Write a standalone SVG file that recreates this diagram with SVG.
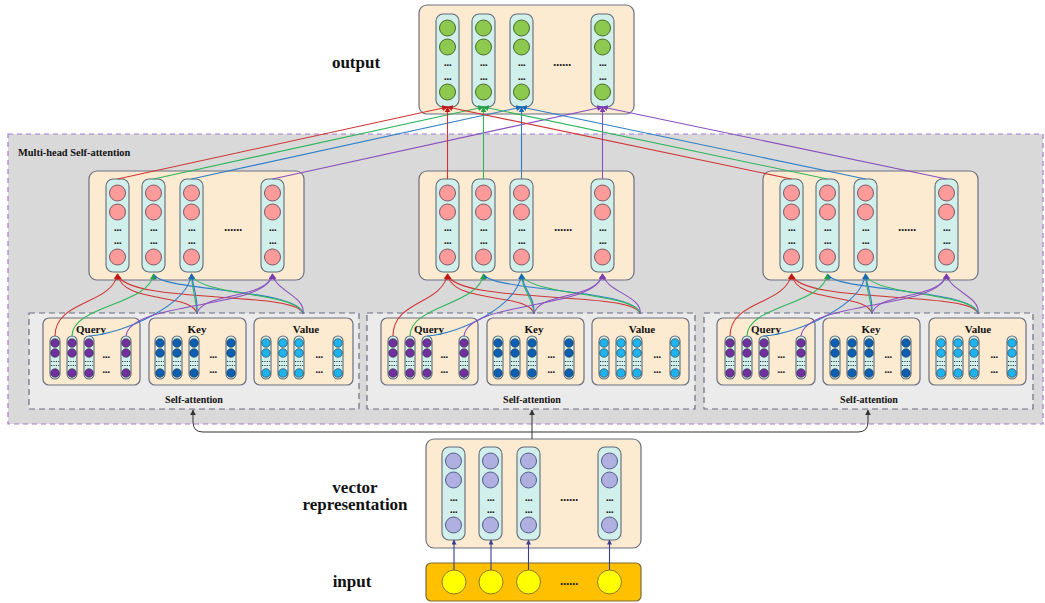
<svg xmlns="http://www.w3.org/2000/svg" xmlns:xlink="http://www.w3.org/1999/xlink" width="1045" height="603" viewBox="0 0 1045 603">
<style>
.lbl{font-family:"Liberation Serif",serif;font-weight:bold;fill:#111;text-anchor:middle}
.box{fill:#fdebd1;stroke:#6b6f82;stroke-width:1.2}
.col{fill:#d2f0eb;stroke:#5f6b7a;stroke-width:1.1}
.d{font-family:"Liberation Sans",sans-serif;font-weight:bold;font-size:11px;fill:#222;text-anchor:middle;letter-spacing:-0.6px}
.e{font-family:"Liberation Sans",sans-serif;font-weight:bold;font-size:12px;fill:#222;text-anchor:middle;letter-spacing:-0.3px}
.sa{fill:#ebebeb;stroke:#6b6f82;stroke-width:1.2;stroke-dasharray:6,4}
.dl{stroke:#333;stroke-width:1.2;stroke-dasharray:1.2,1.2}
.c{fill:none;stroke-width:1.1}
.r{stroke:#d03535}.g{stroke:#2fb55a}.b{stroke:#2f7fc8}.p{stroke:#8a4fbf}
</style>
<defs>
<marker id="aR" viewBox="0 0 10 10" refX="9" refY="5" markerWidth="6" markerHeight="6" orient="auto" markerUnits="userSpaceOnUse"><path d="M0,0L10,5L0,10z" fill="#c01818"/></marker>
<marker id="aG" viewBox="0 0 10 10" refX="9" refY="5" markerWidth="6" markerHeight="6" orient="auto" markerUnits="userSpaceOnUse"><path d="M0,0L10,5L0,10z" fill="#1fa24a"/></marker>
<marker id="aB" viewBox="0 0 10 10" refX="9" refY="5" markerWidth="6" markerHeight="6" orient="auto" markerUnits="userSpaceOnUse"><path d="M0,0L10,5L0,10z" fill="#1a6ab8"/></marker>
<marker id="aP" viewBox="0 0 10 10" refX="9" refY="5" markerWidth="6" markerHeight="6" orient="auto" markerUnits="userSpaceOnUse"><path d="M0,0L10,5L0,10z" fill="#7a3cb0"/></marker>
<marker id="aK" viewBox="0 0 10 10" refX="9" refY="5" markerWidth="6" markerHeight="6" orient="auto" markerUnits="userSpaceOnUse"><path d="M0,0L10,5L0,10z" fill="#333"/></marker>
<marker id="aN" viewBox="0 0 10 10" refX="9" refY="5" markerWidth="5" markerHeight="5" orient="auto" markerUnits="userSpaceOnUse"><path d="M0,0L10,5L0,10z" fill="#3a3f8f"/></marker>
<g id="colG"><rect class="col" x="0" y="0" width="23" height="93" rx="7"/><g fill="#8cc94e" stroke="#4a6b2c" stroke-width="1"><circle cx="11.5" cy="14" r="8"/><circle cx="11.5" cy="33" r="8"/><circle cx="11.5" cy="78" r="8"/></g></g>
<g id="colP"><rect class="col" x="0" y="0" width="23" height="93" rx="7"/><g fill="#fd9a9a" stroke="#7a5a66" stroke-width="1"><circle cx="11.5" cy="14" r="8"/><circle cx="11.5" cy="33" r="8"/><circle cx="11.5" cy="78" r="8"/></g></g>
<g id="colL"><rect class="col" x="0" y="0" width="23" height="93" rx="7"/><g fill="#b0b0e0" stroke="#565b8a" stroke-width="1"><circle cx="11.5" cy="14" r="8"/><circle cx="11.5" cy="33" r="8"/><circle cx="11.5" cy="78" r="8"/></g></g>
<g id="mQ"><rect class="col" x="-5" y="0" width="10" height="43" rx="5"/><g fill="#7030a0" stroke="#333" stroke-width="0.6"><circle cy="7" r="4.3"/><circle cy="17" r="4.3"/><circle cy="37" r="4.3"/></g><line class="dl" x1="-4" x2="4" y1="25.5" y2="25.5"/><line class="dl" x1="-4" x2="4" y1="29.5" y2="29.5"/></g>
<g id="mK"><rect class="col" x="-5" y="0" width="10" height="43" rx="5"/><g fill="#0c5fb3" stroke="#333" stroke-width="0.6"><circle cy="7" r="4.3"/><circle cy="17" r="4.3"/><circle cy="37" r="4.3"/></g><line class="dl" x1="-4" x2="4" y1="25.5" y2="25.5"/><line class="dl" x1="-4" x2="4" y1="29.5" y2="29.5"/></g>
<g id="mV"><rect class="col" x="-5" y="0" width="10" height="43" rx="5"/><g fill="#1db3ee" stroke="#333" stroke-width="0.6"><circle cy="7" r="4.3"/><circle cy="17" r="4.3"/><circle cy="37" r="4.3"/></g><line class="dl" x1="-4" x2="4" y1="25.5" y2="25.5"/><line class="dl" x1="-4" x2="4" y1="29.5" y2="29.5"/></g>
</defs>
<rect width="1045" height="603" fill="#fff"/>
<g id="multihead">
<rect x="8" y="134" width="1035" height="290" fill="#d9d9d9" stroke="#a57bd3" stroke-width="1.2" stroke-dasharray="5,4"/>
<text class="lbl" x="18" y="156" font-size="10.4" style="text-anchor:start">Multi-head Self-attention</text>
</g>
<g id="output">
<text class="lbl" x="356" y="68" font-size="17">output</text>
<g transform="translate(419,5)">
<rect class="box" x="0" y="0" width="215" height="109" rx="8"/>
<use href="#colG" x="17" y="9"/><use href="#colG" x="53" y="9"/><use href="#colG" x="91" y="9"/><use href="#colG" x="172" y="9"/>
<text class="d" y="61"><tspan x="28.5">...</tspan><tspan x="64.5">...</tspan><tspan x="102.5">...</tspan><tspan x="183.5">...</tspan></text>
<text class="d" y="75"><tspan x="28.5">...</tspan><tspan x="64.5">...</tspan><tspan x="102.5">...</tspan><tspan x="183.5">...</tspan></text>
<text class="e" x="143" y="61">......</text>
</g>
</g>
<g id="head1" transform="translate(89,171)">
<rect class="box" x="0" y="0" width="215" height="109" rx="8"/>
<use href="#colP" x="17" y="8"/><use href="#colP" x="53" y="8"/><use href="#colP" x="91" y="8"/><use href="#colP" x="172" y="8"/>
<text class="d" y="60"><tspan x="28.5">...</tspan><tspan x="64.5">...</tspan><tspan x="102.5">...</tspan><tspan x="183.5">...</tspan></text>
<text class="d" y="73"><tspan x="28.5">...</tspan><tspan x="64.5">...</tspan><tspan x="102.5">...</tspan><tspan x="183.5">...</tspan></text>
<text class="e" x="144" y="60">......</text>
</g>
<g id="head2" transform="translate(419,171)">
<rect class="box" x="0" y="0" width="215" height="109" rx="8"/>
<use href="#colP" x="17" y="8"/><use href="#colP" x="53" y="8"/><use href="#colP" x="91" y="8"/><use href="#colP" x="172" y="8"/>
<text class="d" y="60"><tspan x="28.5">...</tspan><tspan x="64.5">...</tspan><tspan x="102.5">...</tspan><tspan x="183.5">...</tspan></text>
<text class="d" y="73"><tspan x="28.5">...</tspan><tspan x="64.5">...</tspan><tspan x="102.5">...</tspan><tspan x="183.5">...</tspan></text>
<text class="e" x="144" y="60">......</text>
</g>
<g id="head3" transform="translate(763,171)">
<rect class="box" x="0" y="0" width="215" height="109" rx="8"/>
<use href="#colP" x="17" y="8"/><use href="#colP" x="53" y="8"/><use href="#colP" x="91" y="8"/><use href="#colP" x="172" y="8"/>
<text class="d" y="60"><tspan x="28.5">...</tspan><tspan x="64.5">...</tspan><tspan x="102.5">...</tspan><tspan x="183.5">...</tspan></text>
<text class="d" y="73"><tspan x="28.5">...</tspan><tspan x="64.5">...</tspan><tspan x="102.5">...</tspan><tspan x="183.5">...</tspan></text>
<text class="e" x="144" y="60">......</text>
</g>
<g id="sa1" transform="translate(29,313)">
<rect class="sa" x="0" y="0" width="330" height="96"/>
<rect class="box" x="14" y="5" width="97" height="67" rx="6"/>
<rect class="box" x="120" y="5" width="97" height="67" rx="6"/>
<rect class="box" x="225" y="5" width="99" height="67" rx="6"/>
<text class="lbl" x="62" y="20" font-size="11">Query</text>
<text class="lbl" x="168" y="20" font-size="11">Key</text>
<text class="lbl" x="277" y="20" font-size="11">Value</text>
<use href="#mQ" x="26" y="23"/><use href="#mQ" x="43" y="23"/><use href="#mQ" x="60" y="23"/><use href="#mQ" x="97" y="23"/>
<use href="#mK" x="131" y="23"/><use href="#mK" x="148" y="23"/><use href="#mK" x="165" y="23"/><use href="#mK" x="202" y="23"/>
<use href="#mV" x="237" y="23"/><use href="#mV" x="254" y="23"/><use href="#mV" x="270" y="23"/><use href="#mV" x="309" y="23"/>
<text class="d" y="45"><tspan x="77">...</tspan><tspan x="184">...</tspan><tspan x="290">...</tspan></text>
<text class="d" y="60"><tspan x="77">...</tspan><tspan x="184">...</tspan><tspan x="290">...</tspan></text>
<text class="lbl" x="165" y="90" font-size="10">Self-attention</text>
</g>
<g id="sa2" transform="translate(367,313)">
<rect class="sa" x="0" y="0" width="328" height="96"/>
<rect class="box" x="14" y="5" width="97" height="67" rx="6"/>
<rect class="box" x="120" y="5" width="97" height="67" rx="6"/>
<rect class="box" x="225" y="5" width="97" height="67" rx="6"/>
<text class="lbl" x="62" y="20" font-size="11">Query</text>
<text class="lbl" x="167" y="20" font-size="11">Key</text>
<text class="lbl" x="275" y="20" font-size="11">Value</text>
<use href="#mQ" x="26" y="23"/><use href="#mQ" x="43" y="23"/><use href="#mQ" x="60" y="23"/><use href="#mQ" x="97" y="23"/>
<use href="#mK" x="131" y="23"/><use href="#mK" x="148" y="23"/><use href="#mK" x="165" y="23"/><use href="#mK" x="202" y="23"/>
<use href="#mV" x="237" y="23"/><use href="#mV" x="254" y="23"/><use href="#mV" x="270" y="23"/><use href="#mV" x="308" y="23"/>
<text class="d" y="45"><tspan x="77">...</tspan><tspan x="184">...</tspan><tspan x="290">...</tspan></text>
<text class="d" y="60"><tspan x="77">...</tspan><tspan x="184">...</tspan><tspan x="290">...</tspan></text>
<text class="lbl" x="165" y="90" font-size="10">Self-attention</text>
</g>
<g id="sa3" transform="translate(704,313)">
<rect class="sa" x="0" y="0" width="329" height="96"/>
<rect class="box" x="13" y="5" width="98" height="67" rx="6"/>
<rect class="box" x="119" y="5" width="97" height="67" rx="6"/>
<rect class="box" x="225" y="5" width="97" height="67" rx="6"/>
<text class="lbl" x="62" y="20" font-size="11">Query</text>
<text class="lbl" x="167" y="20" font-size="11">Key</text>
<text class="lbl" x="274" y="20" font-size="11">Value</text>
<use href="#mQ" x="26" y="23"/><use href="#mQ" x="43" y="23"/><use href="#mQ" x="60" y="23"/><use href="#mQ" x="97" y="23"/>
<use href="#mK" x="131" y="23"/><use href="#mK" x="148" y="23"/><use href="#mK" x="165" y="23"/><use href="#mK" x="202" y="23"/>
<use href="#mV" x="237" y="23"/><use href="#mV" x="254" y="23"/><use href="#mV" x="270" y="23"/><use href="#mV" x="308" y="23"/>
<text class="d" y="45"><tspan x="77">...</tspan><tspan x="184">...</tspan><tspan x="290">...</tspan></text>
<text class="d" y="60"><tspan x="77">...</tspan><tspan x="184">...</tspan><tspan x="290">...</tspan></text>
<text class="lbl" x="165" y="90" font-size="10">Self-attention</text>
</g>
<g id="vector">
<text class="lbl" x="355" y="493" font-size="17">vector</text>
<text class="lbl" x="355" y="510" font-size="17">representation</text>
<g transform="translate(426,439)">
<rect class="box" x="0" y="0" width="215" height="109" rx="8"/>
<use href="#colL" x="16" y="8"/><use href="#colL" x="53" y="8"/><use href="#colL" x="91" y="8"/><use href="#colL" x="172" y="8"/>
<text class="d" y="62"><tspan x="27.5">...</tspan><tspan x="64.5">...</tspan><tspan x="102.5">...</tspan><tspan x="183.5">...</tspan></text>
<text class="d" y="74"><tspan x="27.5">...</tspan><tspan x="64.5">...</tspan><tspan x="102.5">...</tspan><tspan x="183.5">...</tspan></text>
<text class="e" x="143" y="62">......</text>
</g>
</g>
<g id="input">
<text class="lbl" x="352" y="587" font-size="17">input</text>
<rect x="426" y="563" width="215" height="38" rx="5" fill="#ffc000" stroke="#7a6a3a" stroke-width="1.2"/>
<g fill="#ffff00" stroke="#8a7a2a" stroke-width="1"><circle cx="454" cy="582" r="12"/><circle cx="491" cy="582" r="12"/><circle cx="528.5" cy="582" r="12"/><circle cx="609.5" cy="582" r="12"/></g>
<text class="e" x="569" y="585">......</text>
</g>
<g id="connectors">
<g stroke="#3a3f8f" stroke-width="1.1" marker-end="url(#aN)"><line x1="454" y1="570" x2="454" y2="540"/><line x1="491" y1="570" x2="491" y2="540"/><line x1="528.5" y1="570" x2="528.5" y2="540"/><line x1="609.5" y1="570" x2="609.5" y2="540"/></g>
<g fill="none" stroke="#333" stroke-width="1" marker-end="url(#aK)">
<path d="M532,439 L532,410"/>
<path d="M532,432 L203,432 Q193,432 193,422 L193,410"/>
<path d="M532,432 L858,432 Q868,432 868,422 L868,410"/>
</g>
<g class="c">
<path class="r" d="M117.5,179 L447.5,107" marker-end="url(#aR)"/>
<path class="g" d="M153.5,179 L483.5,107" marker-end="url(#aG)"/>
<path class="b" d="M191.5,179 L521.5,107" marker-end="url(#aB)"/>
<path class="p" d="M272.5,179 L602.5,107" marker-end="url(#aP)"/>
<path class="r" d="M447.5,179 L447.5,107" marker-end="url(#aR)"/>
<path class="g" d="M483.5,179 L483.5,107" marker-end="url(#aG)"/>
<path class="b" d="M521.5,179 L521.5,107" marker-end="url(#aB)"/>
<path class="p" d="M602.5,179 L602.5,107" marker-end="url(#aP)"/>
<path class="r" d="M791.5,179 L447.5,107" marker-end="url(#aR)"/>
<path class="g" d="M827.5,179 L483.5,107" marker-end="url(#aG)"/>
<path class="b" d="M865.5,179 L521.5,107" marker-end="url(#aB)"/>
<path class="p" d="M946.5,179 L602.5,107" marker-end="url(#aP)"/>
</g>
<g class="c">
<path class="r" d="M197,314 C193,292 122,305 117.5,274" marker-end="url(#aR)"/>
<path class="r" d="M303,314 C300,290 125,305 117.5,274" marker-end="url(#aR)"/>
<path class="b" d="M303,314 C300,288 160,292 153.5,274" marker-end="url(#aB)"/>
<path class="g" d="M303,314 C300,292 196,296 191.5,274" marker-end="url(#aG)"/>
<path class="g" d="M197,314 C196,296 192,292 191.5,274" marker-end="url(#aG)"/>
<path class="b" d="M197,314 C198,296 194,292 191.5,274" marker-end="url(#aB)"/>
<path class="p" d="M197,314 C200,292 268,300 272.5,274" marker-end="url(#aP)"/>
<path class="p" d="M303,314 C306,296 276,292 272.5,274" marker-end="url(#aP)"/>
<path class="r" d="M55,336 C55,300 112,305 117.5,274" marker-end="url(#aR)"/>
<path class="g" d="M72,336 C72,305 150,305 153.5,274" marker-end="url(#aG)"/>
<path class="b" d="M89,336 C125,333 188,305 191.5,274" marker-end="url(#aB)"/>
<path class="p" d="M126,336 C130,300 268,310 272.5,274" marker-end="url(#aP)"/>
</g>
<g class="c">
<path class="r" d="M534,314 C530,292 452,305 447.5,274" marker-end="url(#aR)"/>
<path class="r" d="M640,314 C637,290 455,305 447.5,274" marker-end="url(#aR)"/>
<path class="b" d="M640,314 C637,288 490,292 483.5,274" marker-end="url(#aB)"/>
<path class="g" d="M640,314 C637,292 526,296 521.5,274" marker-end="url(#aG)"/>
<path class="g" d="M534,314 C533,296 522,292 521.5,274" marker-end="url(#aG)"/>
<path class="b" d="M534,314 C535,296 524,292 521.5,274" marker-end="url(#aB)"/>
<path class="p" d="M534,314 C537,292 598,300 602.5,274" marker-end="url(#aP)"/>
<path class="p" d="M640,314 C643,296 606,292 602.5,274" marker-end="url(#aP)"/>
<path class="r" d="M393,336 C393,300 442,305 447.5,274" marker-end="url(#aR)"/>
<path class="g" d="M410,336 C410,305 480,305 483.5,274" marker-end="url(#aG)"/>
<path class="b" d="M427,336 C463,333 518,305 521.5,274" marker-end="url(#aB)"/>
<path class="p" d="M464,336 C468,300 598,310 602.5,274" marker-end="url(#aP)"/>
</g>
<g class="c">
<path class="r" d="M872,314 C868,292 796,305 791.5,274" marker-end="url(#aR)"/>
<path class="r" d="M978,314 C975,290 799,305 791.5,274" marker-end="url(#aR)"/>
<path class="b" d="M978,314 C975,288 834,292 827.5,274" marker-end="url(#aB)"/>
<path class="g" d="M978,314 C975,292 870,296 865.5,274" marker-end="url(#aG)"/>
<path class="g" d="M872,314 C871,296 866,292 865.5,274" marker-end="url(#aG)"/>
<path class="b" d="M872,314 C873,296 868,292 865.5,274" marker-end="url(#aB)"/>
<path class="p" d="M872,314 C875,292 942,300 946.5,274" marker-end="url(#aP)"/>
<path class="p" d="M978,314 C981,296 950,292 946.5,274" marker-end="url(#aP)"/>
<path class="r" d="M730,336 C730,300 786,305 791.5,274" marker-end="url(#aR)"/>
<path class="g" d="M747,336 C747,305 824,305 827.5,274" marker-end="url(#aG)"/>
<path class="b" d="M764,336 C800,333 862,305 865.5,274" marker-end="url(#aB)"/>
<path class="p" d="M801,336 C805,300 942,310 946.5,274" marker-end="url(#aP)"/>
</g>
</g>
</svg>
